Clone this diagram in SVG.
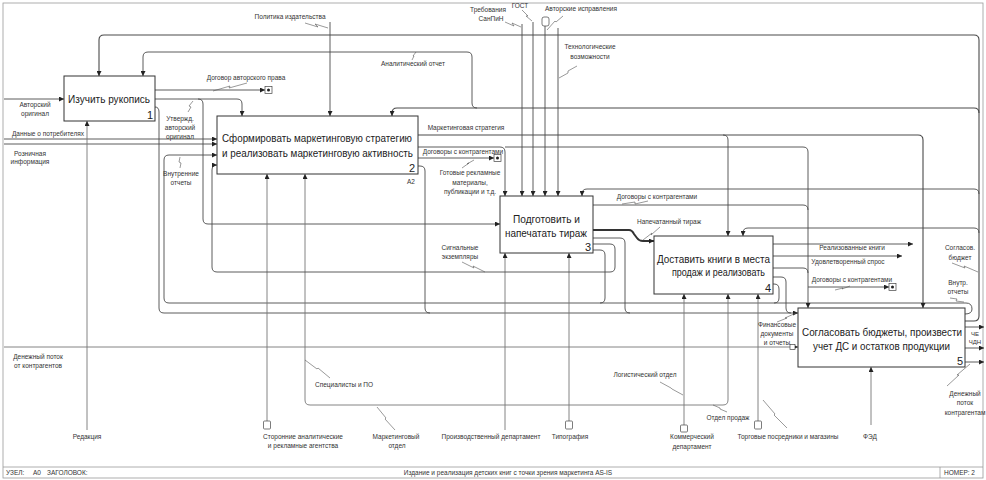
<svg xmlns="http://www.w3.org/2000/svg" width="986" height="480" viewBox="0 0 986 480">
<defs>
<marker id="a" viewBox="0 0 6 6" refX="6" refY="3" markerWidth="5" markerHeight="5" orient="auto" markerUnits="userSpaceOnUse"><path d="M0,0 L6,3 L0,6 z" fill="#222"/></marker>
<style>
.b{fill:#fff;stroke:#333;stroke-width:1}
.c{fill:none;stroke:#4a4a4a;stroke-width:0.9}
.l{fill:none;stroke:#777;stroke-width:0.9}
.k{fill:none;stroke:#333;stroke-width:2}
.s{fill:none;stroke:#555;stroke-width:0.6}
.tn{fill:#fff;stroke:#444;stroke-width:0.7}
.t{font-family:"Liberation Sans",Arial,sans-serif;font-size:6.5px;fill:#333;text-anchor:middle}
.f{font-family:"Liberation Sans",Arial,sans-serif;font-size:6.5px;fill:#333}
.bt{font-family:"Liberation Sans",Arial,sans-serif;font-size:10.2px;fill:#222}
.n{font-family:"Liberation Sans",Arial,sans-serif;font-size:11px;fill:#222;text-anchor:end}
</style>
</defs>
<rect x="0" y="0" width="986" height="480" fill="#fff"/>
<rect x="3" y="3" width="980" height="475" fill="none" stroke="#999" stroke-width="0.8"/>
<g id="footer">
<line x1="3" y1="467" x2="983" y2="467" stroke="#999" stroke-width="0.8"/>
<line x1="940" y1="467" x2="940" y2="478" stroke="#999" stroke-width="0.8"/>
<text class="f" x="6" y="475">УЗЕЛ:</text>
<text class="f" x="33" y="475">A0</text>
<text class="f" x="47" y="475">ЗАГОЛОВОК:</text>
<text class="t" x="508" y="475">Издание и реализация детских книг с точки зрения маркетинга AS-IS</text>
<text class="f" x="944" y="475">НОМЕР: 2</text>
</g>
<g id="connectors">
<path class="c" marker-end="url(#a)" d="M4,99 H64"/>
<path class="c" marker-end="url(#a)" d="M4,139 H217"/>
<path class="c" marker-end="url(#a)" d="M4,144 H217"/>
<path class="l" marker-end="url(#a)" d="M4,347 H798"/>
<path class="l" marker-end="url(#a)" d="M87,430 V121"/>
<path class="c" marker-end="url(#a)" d="M155,90 H265"/>
<path class="c" marker-end="url(#a)" d="M155,99 H237 Q242,99 242,104 V116"/>
<path class="c" marker-end="url(#a)" d="M198,99 Q203,99 203,104 V219 Q203,224 208,224 H500"/>
<path class="c" marker-end="url(#a)" d="M155,107 Q159,107 159,112 V308 Q159,313 164,313 H798"/>
<path class="c" marker-end="url(#a)" d="M965,314 Q972,314 972,309 Q972,303 966,303 H169 Q164,303 164,298 V160 Q164,155 169,155 H217"/>
<path class="c" marker-end="url(#a)" d="M330,22 V116"/>
<path class="c" style="stroke-width:1.1" marker-end="url(#a)" d="M965,321 H974 Q979,321 979,316 V40 Q979,35 974,35 H104 Q99,35 99,40 V76"/>
<path class="c" style="stroke-width:1.1" marker-end="url(#a)" d="M979,113 Q979,108 974,108 H397 Q392,108 392,113 V116"/>
<path class="c" marker-end="url(#a)" d="M477,108 Q472,108 472,103 V57 Q472,52 467,52 H148 Q143,52 143,57 V76"/>
<path class="c" marker-end="url(#a)" d="M979,194 Q979,189 974,189 H587 Q582,189 582,194 V196"/>
<path class="c" marker-end="url(#a)" d="M979,233 Q979,228 974,228 H748 Q743,228 743,233 V236"/>
<path class="c" style="stroke-width:1.1" marker-end="url(#a)" d="M418,135 H918 Q923,135 923,140 V308"/>
<path class="c" marker-end="url(#a)" d="M723,135 Q728,135 728,140 V236"/>
<path class="c" marker-end="url(#a)" d="M418,147 H500 Q505,147 505,152 V196"/>
<path class="c" marker-end="url(#a)" d="M505,147 H803 Q808,147 808,152 V308"/>
<path class="c" marker-end="url(#a)" d="M418,158 H494"/>
<path class="c" d="M418,166 H420 Q425,166 425,171 V308 Q425,313 430,313"/>
<path class="l" marker-end="url(#a)" d="M267,421 V174"/>
<path class="l" marker-end="url(#a)" d="M395,405 H310 Q305,405 305,400 V174"/>
<path class="l" marker-end="url(#a)" d="M395,405 H723 Q728,405 728,400 V294"/>
<path class="c" marker-end="url(#a)" d="M522,24 V196"/>
<path class="c" marker-end="url(#a)" d="M533,22 V196"/>
<path class="c" marker-end="url(#a)" d="M545,26 V196"/>
<path class="c" marker-end="url(#a)" d="M558,28 V196"/>
<path class="l" marker-end="url(#a)" d="M505,430 V253"/>
<path class="l" marker-end="url(#a)" d="M569,421 V253"/>
<path class="k" marker-end="url(#a)" d="M593,230 H629 Q632,230 634,234 L637,238 Q639,241 643,241 H654"/>
<path class="c" d="M593,205 H803 Q808,205 808,210"/>
<path class="c" d="M593,238 H620 Q625,238 625,243 V308 Q625,313 630,313"/>
<path class="c" marker-end="url(#a)" d="M593,244 H610 Q615,244 615,249 V267 Q615,272 610,272 H217 Q212,272 212,267 V170 Q212,165 217,165"/>
<path class="c" d="M593,250 H600 Q605,250 605,255 V298 Q605,303 600,303"/>
<path class="l" marker-end="url(#a)" d="M684,425 V294"/>
<path class="l" marker-end="url(#a)" d="M758,421 V294"/>
<path class="c" marker-end="url(#a)" d="M773,244 H913"/>
<path class="c" marker-end="url(#a)" d="M773,256 H902"/>
<path class="c" d="M773,268 H803 Q808,268 808,273"/>
<path class="c" marker-end="url(#a)" d="M808,287 H889"/>
<path class="c" d="M773,277 H781 Q786,277 786,282 V308 Q786,313 791,313"/>
<path class="c" d="M773,284 H774 Q779,284 779,289 V298 Q779,303 774,303"/>
<path class="l" marker-end="url(#a)" d="M871,425 V367"/>
<path class="c" marker-end="url(#a)" d="M965,327 H984"/>
<path class="c" marker-end="url(#a)" d="M965,348 H984"/>
<path class="c" marker-end="url(#a)" d="M965,362 H984"/>
<rect class="tn" x="265" y="86.5" width="7" height="7"/><circle cx="268.5" cy="90" r="1.5" fill="#222"/>
<rect class="tn" x="494" y="154.5" width="7" height="7"/><circle cx="497.5" cy="158" r="1.5" fill="#222"/>
<rect class="tn" x="889" y="283.5" width="7" height="7"/><circle cx="892.5" cy="287" r="1.5" fill="#222"/>
<rect class="tn" x="542" y="17" width="7" height="9" rx="2"/>
<rect class="tn" x="263.5" y="421" width="7" height="8" rx="1"/>
<rect class="tn" x="565.5" y="421" width="7" height="8" rx="1"/>
<rect class="tn" x="680.5" y="425" width="7" height="7" rx="1"/>
<rect class="tn" x="754.5" y="421" width="7" height="8" rx="1"/>
<rect class="tn" x="790" y="344.5" width="5" height="5"/>
<path class="s" d="M305,23 L318,27 L315,24 L328,28"/>
<path class="s" d="M505,22 L514,26 L512,23 L521,27"/>
<path class="s" d="M522,10 L528,16 L526,16 L532,21"/>
<path class="s" d="M563,16 L556,22 L555,21 L547,30"/>
<path class="s" d="M577,66 L568,71 L568,73 L559,78"/>
<path class="s" d="M213,91 L230,86 L229,88 L247,83"/>
<path class="s" d="M188,112 L191,107 L189,106 L193,101"/>
<path class="s" d="M180,168 L181,163 L179,162 L180,157"/>
<path class="s" d="M412,60 L414,56 L413,56 L416,52"/>
<path class="s" d="M462,168 L469,163 L467,164 L474,160"/>
<path class="s" d="M462,262 L474,268 L473,266 L485,272"/>
<path class="s" d="M643,240 L652,233 L651,235 L660,227"/>
<path class="s" d="M622,204 L635,202 L635,204 L648,201"/>
<path class="s" d="M835,290 L843,288 L842,289 L850,286"/>
<path class="s" d="M952,263 L965,268 L964,266 L978,272"/>
<path class="s" d="M950,298 L957,299 L956,301 L964,302"/>
<path class="s" d="M777,322 L787,318 L785,318 L796,313"/>
<path class="s" d="M947,386 L959,375 L957,375 L970,364"/>
<path class="s" d="M305,360 L317,369 L318,368 L330,378"/>
<path class="s" d="M377,407 L386,418 L385,419 L395,430"/>
<path class="s" d="M660,382 L671,388 L672,389 L683,395"/>
<path class="s" d="M713,405 L720,408 L720,409 L727,412"/>
<path class="s" d="M763,400 L775,414 L774,415 L787,428"/>
</g>
<g id="labels">
<text class="t" x="35" y="107">Авторский</text>
<text class="t" x="35" y="116">оригинал</text>
<text class="t" x="48" y="136">Данные о потребителях</text>
<text class="t" x="30" y="156">Розничная</text>
<text class="t" x="30" y="164">информация</text>
<text class="t" x="38" y="359">Денежный поток</text>
<text class="t" x="38" y="368">от контрагентов</text>
<text class="t" x="290" y="19">Политика издательства</text>
<text class="t" x="488" y="12">Требования</text>
<text class="t" x="491" y="21">СанПиН</text>
<text class="t" x="520" y="8">ГОСТ</text>
<text class="t" x="581" y="11">Авторские исправления</text>
<text class="t" x="590" y="49">Технологические</text>
<text class="t" x="590" y="59">возможности</text>
<text class="t" x="246" y="80">Договор авторского права</text>
<text class="t" x="180" y="121">Утвержд.</text>
<text class="t" x="180" y="130">авторский</text>
<text class="t" x="180" y="139">оригинал</text>
<text class="t" x="181" y="176">Внутренние</text>
<text class="t" x="181" y="185">отчеты</text>
<text class="t" x="413" y="66">Аналитический отчет</text>
<text class="t" x="466" y="130">Маркетинговая стратегия</text>
<text class="t" x="463" y="154">Договоры с контрагентами</text>
<text class="t" x="470" y="175">Готовые рекламные</text>
<text class="t" x="470" y="185">материалы,</text>
<text class="t" x="470" y="194">публикации и т.д.</text>
<text class="t" x="411" y="184">A2</text>
<text class="t" x="460" y="250">Сигнальные</text>
<text class="t" x="460" y="259">экземпляры</text>
<text class="t" x="657" y="199">Договоры с контрагентами</text>
<text class="t" x="669" y="224">Напечатанный тираж</text>
<text class="t" x="852" y="250">Реализованные книги</text>
<text class="t" x="848" y="264">Удовлетворенный спрос</text>
<text class="t" x="852" y="282">Договоры с контрагентами</text>
<text class="t" x="960" y="250">Согласов.</text>
<text class="t" x="960" y="260">бюджет</text>
<text class="t" x="958" y="285">Внутр.</text>
<text class="t" x="958" y="294">отчеты</text>
<text class="t" x="975" y="336" style="font-size:6px">ЧЕ</text>
<text class="t" x="975" y="344" style="font-size:6px">ЧДН</text>
<text class="t" x="965" y="396">Денежный</text>
<text class="t" x="965" y="405">поток</text>
<text class="t" x="965" y="415">контрагентам</text>
<text class="t" x="777" y="327">Финансовые</text>
<text class="t" x="777" y="336">документы</text>
<text class="t" x="777" y="345">и отчеты</text>
<text class="t" x="87" y="439">Редакция</text>
<text class="t" x="303" y="439">Сторонние аналитические</text>
<text class="t" x="303" y="448">и рекламные агентства</text>
<text class="t" x="344" y="387">Специалисты и ПО</text>
<text class="t" x="396" y="439">Маркетинговый</text>
<text class="t" x="397" y="448">отдел</text>
<text class="t" x="491" y="439">Производственный департамент</text>
<text class="t" x="570" y="439">Типография</text>
<text class="t" x="645" y="377">Логистический отдел</text>
<text class="t" x="728" y="420">Отдел продаж</text>
<text class="t" x="692" y="439">Коммерческий</text>
<text class="t" x="692" y="449">департамент</text>
<text class="t" x="788" y="439">Торговые посредники и магазины</text>
<text class="t" x="870" y="439">ФЭД</text>
</g>
<g id="node1">
<rect class="b" x="64" y="76" width="91" height="45"/>
<text class="bt" x="68" y="103" textLength="82" lengthAdjust="spacingAndGlyphs">Изучить рукопись</text>
<text class="n" x="153" y="119">1</text>
</g>
<g id="node2">
<rect class="b" x="217" y="116" width="201" height="58"/>
<text class="bt" x="222" y="142" textLength="190" lengthAdjust="spacingAndGlyphs">Сформировать маркетинговую стратегию</text>
<text class="bt" x="222" y="157" textLength="191" lengthAdjust="spacingAndGlyphs">и реализовать маркетинговую активность</text>
<text class="n" x="415" y="172">2</text>
</g>
<g id="node3">
<rect class="b" x="500" y="196" width="93" height="57"/>
<text class="bt" x="513" y="223" textLength="67" lengthAdjust="spacingAndGlyphs">Подготовить и</text>
<text class="bt" x="505" y="237" textLength="82" lengthAdjust="spacingAndGlyphs">напечатать тираж</text>
<text class="n" x="591" y="251">3</text>
</g>
<g id="node4">
<rect class="b" x="654" y="236" width="119" height="58"/>
<text class="bt" x="657" y="263" textLength="113" lengthAdjust="spacingAndGlyphs">Доставить книги в места</text>
<text class="bt" x="672" y="276" textLength="93" lengthAdjust="spacingAndGlyphs">продаж и реализовать</text>
<text class="n" x="771" y="292">4</text>
</g>
<g id="node5">
<rect class="b" x="798" y="308" width="167" height="59"/>
<text class="bt" x="802" y="336" textLength="160" lengthAdjust="spacingAndGlyphs">Согласовать бюджеты, произвести</text>
<text class="bt" x="813" y="350" textLength="137" lengthAdjust="spacingAndGlyphs">учет ДС и остатков продукции</text>
<text class="n" x="963" y="365">5</text>
</g>
</svg>
